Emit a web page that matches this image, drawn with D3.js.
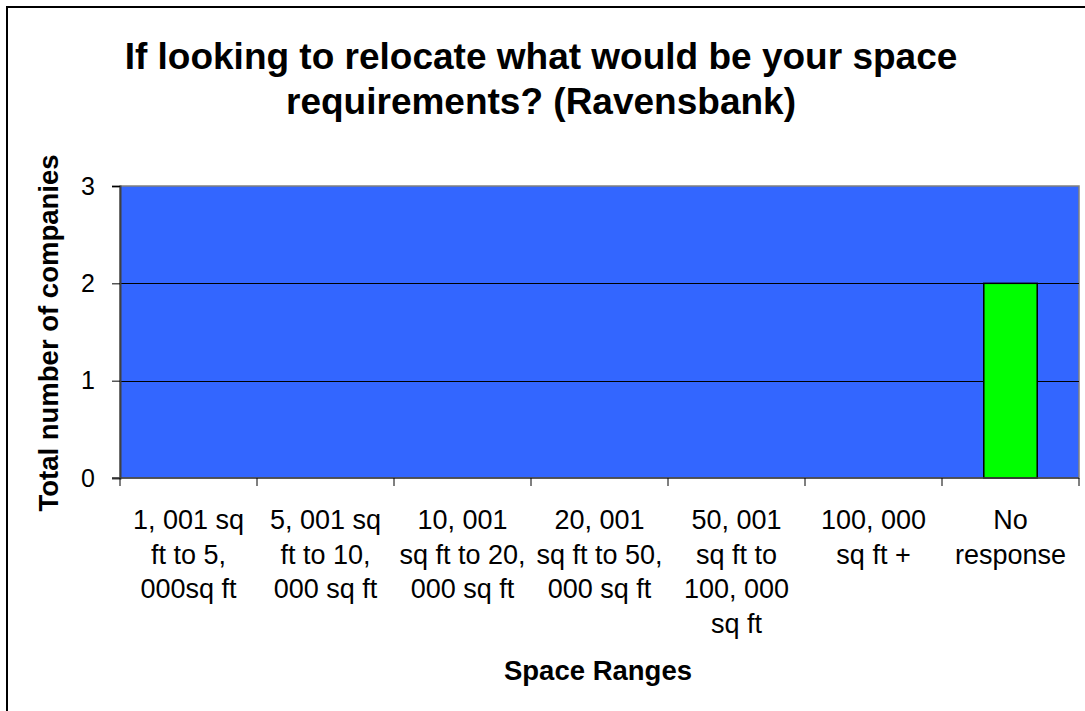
<!DOCTYPE html>
<html>
<head>
<meta charset="utf-8">
<script src="https://cdn.jsdelivr.net/npm/d3@7"></script>
<style>
html,body{margin:0;padding:0;background:#fff;}
svg{display:block;font-family:"Liberation Sans",Arial,sans-serif;}
</style>
</head>
<body>
<svg id="chart" width="1085" height="711"></svg>
<script>
const categories = [
  "1, 001 sq\nft to 5,\n000sq ft",
  "5, 001 sq\nft to 10,\n000 sq ft",
  "10, 001\nsq ft to 20,\n000 sq ft",
  "20, 001\nsq ft to 50,\n000 sq ft",
  "50, 001\nsq ft to\n100, 000\nsq ft",
  "100, 000\nsq ft +",
  "No\nresponse"
];
const values = [0, 0, 0, 0, 0, 0, 2];
const yTicks = [0, 1, 2, 3];
const titleLines = ["If looking to relocate what would be your space", "requirements? (Ravensbank)"];
const xTitle = "Space Ranges";
const yTitle = "Total number of companies";

const svg = d3.select("#chart");
const W = 1085, H = 711;
const plot = {left: 120, top: 186, right: 1079, bottom: 478};

// outer border
svg.append("rect").attr("x", 7).attr("y", 7).attr("width", W + 10).attr("height", H + 10)
  .attr("fill", "#fff").attr("stroke", "#000").attr("stroke-width", 2);

const x = d3.scaleBand().domain(categories).range([plot.left, plot.right]).paddingInner(0).paddingOuter(0);
const y = d3.scaleLinear().domain([0, 3]).range([plot.bottom, plot.top]);

// plot background
svg.append("rect").attr("x", plot.left).attr("y", plot.top)
  .attr("width", plot.right - plot.left).attr("height", plot.bottom - plot.top)
  .attr("fill", "#3366FF").attr("stroke", "#808080").attr("stroke-width", 1.5);

// gridlines
svg.append("g").selectAll("line").data(yTicks.filter(d => d > 0 && d < 3)).join("line")
  .attr("x1", plot.left).attr("x2", plot.right)
  .attr("y1", d => Math.round(y(d)) + 0.5).attr("y2", d => Math.round(y(d)) + 0.5)
  .attr("stroke", "#000").attr("stroke-width", 1);

// bars
const barW = x.bandwidth() * 0.39;
svg.append("g").selectAll("rect").data(values.map((v, i) => ({c: categories[i], v})).filter(d => d.v > 0)).join("rect")
  .attr("x", d => x(d.c) + (x.bandwidth() - barW) / 2)
  .attr("y", d => y(d.v))
  .attr("width", barW)
  .attr("height", d => y(0) - y(d.v))
  .attr("fill", "#00FF00").attr("stroke", "#000").attr("stroke-width", 1.5);

// y axis
const yAxis = svg.append("g").attr("transform", `translate(${plot.left},0)`)
  .call(d3.axisLeft(y).tickValues(yTicks).tickSize(8).tickPadding(17).tickFormat(d3.format("d")));
yAxis.select(".domain").attr("stroke", "#404040").attr("stroke-width", 2);
yAxis.selectAll(".tick line").attr("stroke", "#000");
yAxis.selectAll(".tick text").attr("font-size", 25).attr("fill", "#000")
  .attr("font-family", "Liberation Sans, Arial, sans-serif");

// x axis
const xAxisG = svg.append("g").attr("transform", `translate(0,${plot.bottom})`);
xAxisG.append("line").attr("x1", plot.left - 8).attr("x2", plot.right).attr("y1", 0).attr("y2", 0)
  .attr("stroke", "#404040").attr("stroke-width", 1.5);
const bounds = categories.map(c => x(c)).concat([plot.right]);
xAxisG.selectAll("line.tk").data(bounds).join("line").attr("class", "tk")
  .attr("x1", d => d).attr("x2", d => d).attr("y1", 0).attr("y2", 8)
  .attr("stroke", "#000").attr("stroke-width", 1);
const lbl = xAxisG.selectAll("text.cat").data(categories).join("text").attr("class", "cat")
  .attr("text-anchor", "middle").attr("font-size", 27).attr("fill", "#000")
  .attr("transform", d => `translate(${x(d) + x.bandwidth() / 2},0)`);
lbl.selectAll("tspan").data(d => d.split("\n")).join("tspan")
  .attr("x", 0).attr("y", (d, i) => 51 + i * 34.5).text(d => d);

// title
svg.append("text").attr("text-anchor", "middle").attr("font-size", 37).attr("font-weight", "bold")
  .selectAll("tspan").data(titleLines).join("tspan")
  .attr("x", 541).attr("y", (d, i) => 69 + i * 45).text(d => d);

// axis titles
svg.append("text").attr("x", 598).attr("y", 680)
  .attr("text-anchor", "middle").attr("font-size", 27.5).attr("font-weight", "bold").text(xTitle);
svg.append("text").attr("transform", `translate(58,333) rotate(-90)`)
  .attr("text-anchor", "middle").attr("font-size", 27.5).attr("font-weight", "bold").text(yTitle);
</script>
</body>
</html>
